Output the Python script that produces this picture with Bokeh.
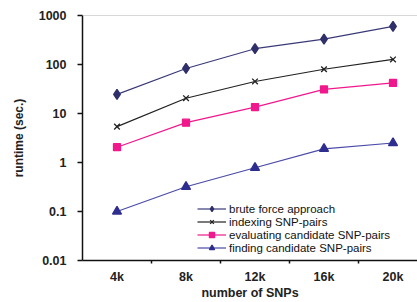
from bokeh.plotting import figure
from bokeh.models import FixedTicker, CustomJSTickFormatter, Span, Legend, LegendItem
from bokeh.embed import file_html
from bokeh.resources import INLINE

snps = ["4k", "8k", "12k", "16k", "20k"]
x_pos = [1, 2, 3, 4, 5]
brute_force = [24.5, 83, 210, 330, 600]
indexing = [5.4, 20.5, 45, 80, 127]
evaluating = [2.05, 6.5, 13.5, 31, 42]
finding = [0.1, 0.32, 0.78, 1.9, 2.5]
y_ticks = [0.01, 0.1, 1, 10, 100, 1000]

p = figure(width=417, height=302, y_axis_type="log",
           x_range=(0.5, 5.355), y_range=(0.01, 1000),
           output_backend="svg", toolbar_location=None,
           min_border_left=82, min_border_right=0, min_border_top=15, min_border_bottom=42)
p.outline_line_color = None
p.xgrid.visible = False
p.ygrid.visible = False
p.background_fill_color = "white"

p.add_layout(Span(location=1000, dimension="width", line_color="#b0b0b0", line_width=1))

series = [
    ("brute force approach", brute_force, "#3a3a78", "#2f2f6a", "diamond", 10),
    ("indexing SNP-pairs", indexing, "#222222", "#222222", "x", 8),
    ("evaluating candidate SNP-pairs", evaluating, "#f0188c", "#f0188c", "square", 7),
    ("finding candidate SNP-pairs", finding, "#4a4aa8", "#2e2e90", "triangle", 9),
]
items = []
for name, vals, lc, mc, mk, sz in series:
    r1 = p.line(x_pos, vals, line_color=lc, line_width=1.2)
    r2 = p.scatter(x_pos, vals, marker=mk, size=sz, fill_color=mc, line_color=mc, line_width=1.3)
    items.append(LegendItem(label=name, renderers=[r1, r2]))

legend = Legend(items=items, location=(115, 6), padding=0, margin=0, spacing=0,
                border_line_color=None, background_fill_alpha=0,
                glyph_width=29, glyph_height=13, label_height=13, label_standoff=3,
                label_text_font="Liberation Sans", label_text_font_size="11.5px",
                label_text_color="#111111")
p.add_layout(legend)

ya = p.yaxis[0]
ya.ticker = FixedTicker(ticks=y_ticks, minor_ticks=[])
ya.formatter = CustomJSTickFormatter(code="return tick.toString()")
ya.axis_label = "runtime (sec.)"
ya.axis_label_text_font = "Liberation Sans"
ya.axis_label_text_font_style = "bold"
ya.axis_label_text_font_size = "12px"
ya.axis_label_text_color = "#222222"
ya.axis_label_standoff = 10
ya.major_label_text_font = "Liberation Sans"
ya.major_label_text_font_style = "bold"
ya.major_label_text_font_size = "12.5px"
ya.major_label_text_color = "#222222"
ya.major_label_standoff = 11
ya.major_tick_out = 5
ya.major_tick_in = 0
ya.minor_tick_line_color = None
ya.axis_line_width = 1.5
ya.axis_line_color = "#111111"
ya.major_tick_line_width = 1.5
ya.major_tick_line_color = "#111111"

xa = p.xaxis[0]
xa.ticker = FixedTicker(ticks=x_pos, minor_ticks=[1.5, 2.5, 3.5, 4.5])
xa.formatter = CustomJSTickFormatter(args=dict(labels=snps), code="return labels[Math.round(tick) - 1]")
xa.axis_label = "number of SNPs"
xa.axis_label_text_font = "Liberation Sans"
xa.axis_label_text_font_style = "bold"
xa.axis_label_text_font_size = "12.5px"
xa.axis_label_text_color = "#222222"
xa.axis_label_standoff = -1
xa.major_label_text_font = "Liberation Sans"
xa.major_label_text_font_style = "bold"
xa.major_label_text_font_size = "12.5px"
xa.major_label_text_color = "#222222"
xa.major_label_standoff = 6
xa.major_tick_line_color = None
xa.major_tick_out = 3
xa.minor_tick_out = 3
xa.minor_tick_in = 0
xa.minor_tick_line_width = 1.5
xa.minor_tick_line_color = "#111111"
xa.axis_line_width = 1.5
xa.axis_line_color = "#111111"

open("out.html", "w").write(file_html(p, INLINE))
